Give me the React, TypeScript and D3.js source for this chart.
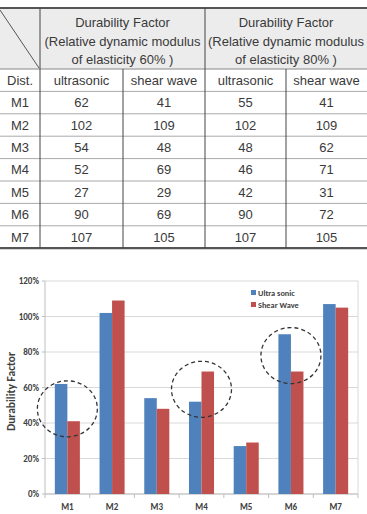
import React from "react";
import * as d3 from "d3";

const categories = ["M1", "M2", "M3", "M4", "M5", "M6", "M7"];
const us60 = [62, 102, 54, 52, 27, 90, 107];
const sw60 = [41, 109, 48, 69, 29, 69, 105];
const us80 = [55, 102, 48, 46, 42, 90, 107];
const sw80 = [41, 109, 62, 71, 31, 72, 105];
const seriesNames = ["Ultra sonic", "Shear Wave"];
const seriesColors = ["#4F81BD", "#C0504D"];
const yTicks = [0, 20, 40, 60, 80, 100, 120];
const highlightCats = ["M1", "M4", "M6"];
const highlightLevels = [48, 59, 78];
const headerGroup = ["Durability Factor", "(Relative dynamic modulus", "of elasticity"];
const headerPct = ["60%", "80%"];
const subHeaders = ["ultrasonic", "shear wave", "ultrasonic", "shear wave"];

const W = 367;
const H = 514;

export default function App() {
  // table geometry
  const colX = [0, 40, 123, 205, 286, 367];
  const tTop = 8;
  const headBottom = 69;
  const rowH = 22.4;
  const nRows = categories.length + 1;
  const tBottom = headBottom + rowH * nRows;
  const tableRows = categories.map((c, i) => [c, us60[i], sw60[i], us80[i], sw80[i]]);
  const txtColor = "#3a3a3a";
  const tf = "'Liberation Sans', Arial, sans-serif";

  // chart geometry
  const plot = { left: 45, right: 358, top: 281, bottom: 494 };
  const y = d3.scaleLinear().domain([0, 120]).range([plot.bottom, plot.top]);
  const x = d3.scaleBand().domain(categories).range([plot.left, plot.right]).paddingInner(0.44).paddingOuter(0.22);
  const xs = d3.scaleBand().domain(seriesNames).range([0, x.bandwidth()]);
  const step = x.step();
  const cf = "Carlito, 'Liberation Sans', Arial, sans-serif";

  return (
    <svg width={W} height={H} style={{ position: "absolute", left: 0, top: 0, background: "#fff" }}>
      {/* ===== TABLE ===== */}
      <rect x={0} y={tTop} width={W} height={headBottom - tTop} fill="#ececec" />
      <line x1={0} y1={tTop + 2} x2={colX[1] - 1} y2={headBottom - 1} stroke="#555" strokeWidth={1} />
      {[0, 1].map((g) => {
        const cx = (colX[1 + g * 2] + colX[3 + g * 2]) / 2;
        const lines = [headerGroup[0], headerGroup[1], `${headerGroup[2]} ${headerPct[g]} )`];
        return lines.map((t, i) => (
          <text key={`h${g}${i}`} x={cx} y={27 + i * 18.5} textAnchor="middle" fontFamily={tf} fontSize={13} fill={txtColor}>
            {t}
          </text>
        ));
      })}
      <text x={colX[1] / 2} y={headBottom + rowH / 2 + 4.5} textAnchor="middle" fontFamily={tf} fontSize={13} fill={txtColor}>
        Dist.
      </text>
      {subHeaders.map((s, i) => (
        <text key={s + i} x={(colX[i + 1] + colX[i + 2]) / 2} y={headBottom + rowH / 2 + 4.5} textAnchor="middle" fontFamily={tf} fontSize={13} fill={txtColor}>
          {s}
        </text>
      ))}
      {tableRows.map((r, ri) =>
        r.map((v, ci) => (
          <text key={`r${ri}c${ci}`} x={(colX[ci] + colX[ci + 1]) / 2} y={headBottom + rowH * (ri + 1) + rowH / 2 + 4.5} textAnchor="middle" fontFamily={tf} fontSize={13} fill={txtColor}>
            {v}
          </text>
        ))
      )}
      {d3.range(1, nRows).map((i) => (
        <line key={`hl${i}`} x1={0} x2={W} y1={headBottom + rowH * i} y2={headBottom + rowH * i} stroke="#aaa" strokeWidth={1} />
      ))}
      <line x1={0} x2={W} y1={headBottom} y2={headBottom} stroke="#888" strokeWidth={1.2} />
      <line x1={0} x2={W} y1={tTop} y2={tTop} stroke="#555" strokeWidth={2.2} />
      <line x1={0} x2={W} y1={tBottom} y2={tBottom} stroke="#555" strokeWidth={2.2} />
      {[1, 3].map((i) => (
        <line key={`vl${i}`} x1={colX[i]} x2={colX[i]} y1={tTop} y2={tBottom} stroke="#444" strokeWidth={1} />
      ))}
      {[2, 4].map((i) => (
        <line key={`vs${i}`} x1={colX[i]} x2={colX[i]} y1={headBottom} y2={tBottom} stroke="#444" strokeWidth={1} />
      ))}

      {/* ===== CHART ===== */}
      {yTicks.map((t) => (
        <line key={`g${t}`} x1={plot.left} x2={plot.right} y1={y(t)} y2={y(t)} stroke="#d9d9d9" strokeWidth={1} />
      ))}
      <line x1={plot.right} x2={plot.right} y1={plot.top} y2={plot.bottom} stroke="#d9d9d9" />
      <line x1={plot.left} x2={plot.left} y1={plot.top} y2={plot.bottom} stroke="#bfbfbf" />
      {yTicks.map((t) => (
        <line key={`yt${t}`} x1={plot.left - 3} x2={plot.left} y1={y(t)} y2={y(t)} stroke="#bfbfbf" />
      ))}
      <line x1={plot.left} x2={plot.right} y1={plot.bottom} y2={plot.bottom} stroke="#bfbfbf" />
      {d3.range(categories.length + 1).map((i) => (
        <line key={`xt${i}`} x1={plot.left + i * step} x2={plot.left + i * step} y1={plot.bottom} y2={plot.bottom + 4} stroke="#bfbfbf" />
      ))}
      {yTicks.map((t) => (
        <text key={`yl${t}`} x={plot.left - 6} y={y(t) + 3} textAnchor="end" fontFamily={cf} fontWeight="bold" fontSize={9} fill="#404040">
          {t}%
        </text>
      ))}
      {categories.map((c) => (
        <text key={`xl${c}`} x={(x(c) as number) + x.bandwidth() / 2} y={plot.bottom + 16} textAnchor="middle" fontFamily={cf} fontWeight="bold" fontSize={9} fill="#404040">
          {c}
        </text>
      ))}
      <text transform={`translate(15,${(plot.top + plot.bottom) / 2 + 4}) rotate(-90)`} textAnchor="middle" fontFamily={cf} fontWeight="bold" fontSize={11.5} fill="#404040">
        Durability Factor
      </text>
      {seriesNames.map((s, k) =>
        categories.map((c, i) => {
          const v = (k === 0 ? us60 : sw60)[i];
          return (
            <rect key={`b${k}${c}`} x={(x(c) as number) + (xs(s) as number)} y={y(v)} width={xs.bandwidth()} height={plot.bottom - y(v)} fill={seriesColors[k]} />
          );
        })
      )}
      {seriesNames.map((s, k) => (
        <g key={`lg${s}`} transform={`translate(251,${290 + k * 12})`}>
          <rect x={0} y={0} width={5} height={5} fill={seriesColors[k]} />
          <text x={7} y={6} fontFamily={cf} fontWeight="bold" fontSize={8.3} fill="#404040">
            {s}
          </text>
        </g>
      ))}
      {highlightCats.map((c, i) => (
        <ellipse key={`hc${c}`} cx={(x(c) as number) + x.bandwidth() / 2} cy={y(highlightLevels[i])} rx={30} ry={28} fill="none" stroke="#333" strokeWidth={1.3} strokeDasharray="4,3" />
      ))}
    </svg>
  );
}
